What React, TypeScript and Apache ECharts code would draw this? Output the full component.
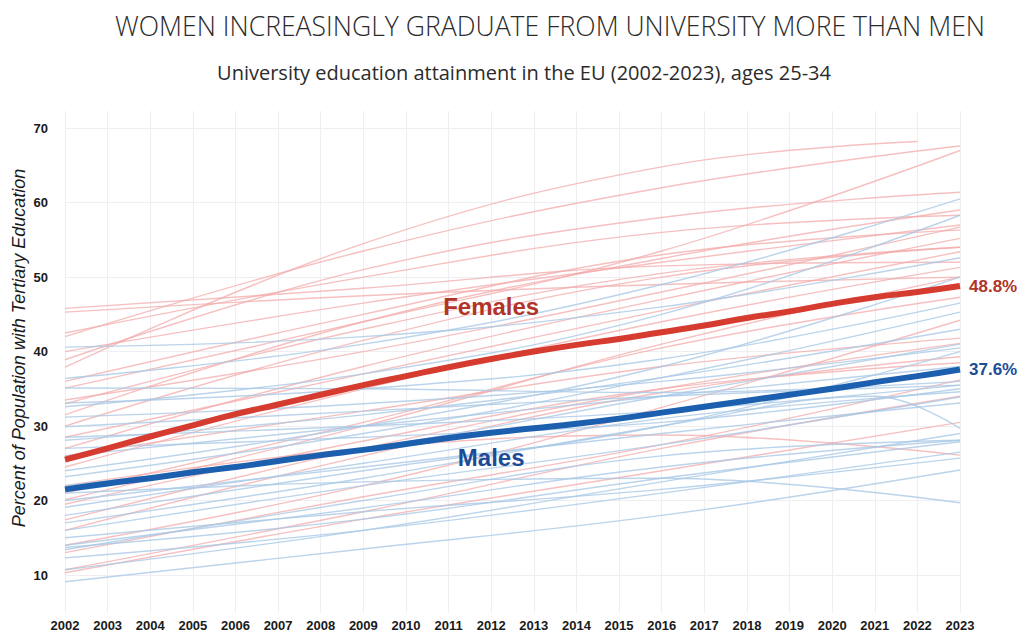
import React, { useEffect, useRef } from "react";
import * as echarts from "echarts";

const years = [2002, 2003, 2004, 2005, 2006, 2007, 2008, 2009, 2010, 2011, 2012, 2013, 2014, 2015, 2016, 2017, 2018, 2019, 2020, 2021, 2022, 2023];
const euFemale = [25.5, 27.0, 28.6, 30.1, 31.6, 32.9, 34.2, 35.5, 36.7, 37.9, 39.0, 40.0, 40.9, 41.7, 42.6, 43.5, 44.5, 45.4, 46.4, 47.3, 48.0, 48.8];
const euMale = [21.5, 22.3, 23.0, 23.8, 24.5, 25.3, 26.1, 26.8, 27.6, 28.4, 29.1, 29.7, 30.3, 31.0, 31.8, 32.6, 33.4, 34.2, 35.0, 35.9, 36.7, 37.6];
const yTicks = [10, 20, 30, 40, 50, 60, 70];

// Country trend lines, [year, value] pairs
const countryFemale: number[][][] = [
  [[2002, 45.8], [2009, 48.5], [2016, 51.5], [2023, 52.0]],
  [[2002, 45.3], [2009, 47.5], [2016, 49.0], [2023, 50.0]],
  [[2002, 42.5], [2009, 50.0], [2016, 56.0], [2023, 58.3]],
  [[2002, 42.0], [2009, 53.5], [2016, 62.0], [2023, 67.6]],
  [[2002, 38.9], [2009, 51.0], [2016, 58.0], [2023, 61.4]],
  [[2002, 37.9], [2009, 54.5], [2016, 64.8], [2022, 68.2]],
  [[2002, 35.1], [2009, 44.0], [2016, 53.5], [2023, 67.0]],
  [[2002, 33.5], [2009, 40.0], [2016, 48.0], [2023, 56.7]],
  [[2002, 31.5], [2009, 44.0], [2016, 52.5], [2023, 59.0]],
  [[2002, 30.0], [2009, 41.5], [2016, 50.0], [2023, 54.0]],
  [[2002, 28.5], [2009, 37.0], [2016, 45.5], [2023, 53.4]],
  [[2002, 27.0], [2009, 38.0], [2016, 47.0], [2023, 55.2]],
  [[2002, 26.0], [2009, 32.0], [2016, 38.0], [2023, 41.8]],
  [[2002, 24.5], [2009, 35.0], [2016, 44.0], [2023, 51.3]],
  [[2002, 21.0], [2009, 30.5], [2016, 40.5], [2023, 47.3]],
  [[2002, 20.1], [2009, 30.0], [2016, 41.0], [2023, 50.0]],
  [[2002, 19.5], [2009, 28.0], [2016, 35.0], [2023, 38.5]],
  [[2002, 17.4], [2009, 27.0], [2016, 35.0], [2023, 41.1]],
  [[2002, 16.0], [2009, 26.0], [2016, 34.5], [2023, 39.3]],
  [[2002, 14.0], [2009, 22.0], [2016, 32.5], [2023, 44.2]],
  [[2002, 13.0], [2009, 20.5], [2016, 27.5], [2023, 36.2]],
  [[2002, 10.7], [2009, 18.5], [2016, 27.0], [2023, 34.0]],
  [[2002, 10.3], [2009, 17.5], [2016, 24.0], [2023, 30.5]],
  [[2002, 22.0], [2009, 27.0], [2016, 28.8], [2023, 26.1]],
  [[2002, 36.0], [2009, 45.0], [2016, 53.0], [2023, 56.3]],
  [[2002, 33.0], [2009, 43.0], [2016, 50.5], [2023, 54.0]],
  [[2002, 40.0], [2009, 46.5], [2016, 52.0], [2023, 57.0]],
];

const countryMale: number[][][] = [
  [[2002, 40.6], [2009, 42.0], [2016, 46.0], [2023, 52.6]],
  [[2002, 36.4], [2009, 41.0], [2016, 49.0], [2023, 60.5]],
  [[2002, 35.1], [2009, 35.0], [2016, 34.5], [2023, 36.0]],
  [[2002, 33.1], [2009, 35.0], [2016, 39.0], [2023, 46.5]],
  [[2002, 32.6], [2009, 37.0], [2016, 45.0], [2023, 58.3]],
  [[2002, 31.2], [2009, 33.0], [2016, 36.0], [2023, 40.5]],
  [[2002, 29.9], [2009, 32.0], [2016, 34.0], [2023, 35.5]],
  [[2002, 28.1], [2009, 31.5], [2016, 36.5], [2023, 43.0]],
  [[2002, 23.2], [2009, 29.0], [2016, 36.5], [2023, 45.3]],
  [[2002, 19.1], [2009, 25.0], [2016, 31.0], [2023, 34.6]],
  [[2002, 16.0], [2009, 22.0], [2016, 27.5], [2023, 33.9]],
  [[2002, 13.4], [2009, 20.0], [2016, 26.0], [2023, 28.1]],
  [[2002, 12.3], [2009, 16.0], [2016, 21.0], [2023, 26.5]],
  [[2002, 9.1], [2009, 13.5], [2016, 18.0], [2023, 24.1]],
  [[2002, 14.0], [2009, 19.0], [2016, 24.5], [2023, 28.1]],
  [[2002, 13.7], [2009, 17.5], [2016, 23.0], [2023, 27.9]],
  [[2002, 10.7], [2009, 16.0], [2016, 22.5], [2023, 29.0]],
  [[2002, 21.0], [2009, 22.5], [2016, 23.0], [2023, 19.7]],
  [[2002, 17.0], [2009, 23.0], [2016, 30.0], [2021, 34.0], [2023, 29.7]],
  [[2002, 26.0], [2009, 30.0], [2016, 34.0], [2023, 38.0]],
  [[2002, 22.0], [2009, 27.0], [2016, 34.0], [2023, 41.0]],
  [[2002, 20.0], [2009, 24.5], [2016, 29.0], [2023, 33.1]],
  [[2002, 28.5], [2009, 30.0], [2016, 32.0], [2023, 35.5]],
  [[2002, 18.0], [2009, 24.0], [2016, 30.0], [2023, 40.0]],
  [[2002, 24.0], [2009, 30.0], [2016, 38.0], [2023, 50.0]],
  [[2002, 15.0], [2009, 18.5], [2016, 21.5], [2023, 25.7]],
  [[2002, 27.0], [2009, 28.5], [2016, 30.5], [2023, 35.0]],
];

const FEMALE_BG = "rgba(242, 168, 168, 0.72)";
const MALE_BG = "rgba(168, 200, 230, 0.78)";
const FEMALE = "#d63b30";
const MALE = "#1c5fae";
const FEMALE_TEXT = "#b03428";
const MALE_TEXT = "#1c4b98";
const AXIS_FONT = "Liberation Sans, Arial, sans-serif";

export default function App() {
  const ref = useRef<HTMLDivElement>(null);
  useEffect(() => {
    if (!ref.current) return;
    const chart = echarts.init(ref.current, null, { renderer: "svg" });

    const bgSeries = (lines: number[][][], color: string) =>
      lines.map((pts) => ({
        type: "line",
        data: pts,
        smooth: 0.4,
        symbol: "none",
        silent: true,
        z: 1,
        lineStyle: { color, width: 1.4 },
      }));

    chart.setOption({
      animation: false,
      backgroundColor: "#ffffff",
      grid: { left: 65, right: 67, top: 111, bottom: 20, containLabel: false },
      xAxis: {
        type: "value",
        min: 2002,
        max: 2023,
        interval: 1,
        axisLine: { show: false },
        axisTick: { show: false },
        axisLabel: {
          formatter: (v: number) => String(v),
          fontFamily: AXIS_FONT,
          fontWeight: "bold",
          fontSize: 13,
          color: "#1a1a1a",
          margin: 6,
        },
        splitLine: { show: true, lineStyle: { color: "#efeff3", width: 1.2 } },
      },
      yAxis: {
        type: "value",
        min: 4.9,
        max: 72.3,
        axisLine: { show: false },
        axisTick: { show: false, customValues: yTicks },
        axisLabel: {
          customValues: yTicks,
          formatter: (v: number) => String(v),
          fontFamily: AXIS_FONT,
          fontWeight: "bold",
          fontSize: 13,
          color: "#1a1a1a",
          margin: 17,
        },
        splitLine: { show: true, lineStyle: { color: "#efeff3", width: 1.2 } },
      },
      graphic: [
        {
          type: "text",
          x: 550,
          y: 25,
          scaleX: 0.95,
          style: {
            text: "WOMEN INCREASINGLY GRADUATE FROM UNIVERSITY MORE THAN MEN",
            fontFamily: "Open Sans, Noto Sans, sans-serif",
            fontWeight: 300,
            fontSize: 28,
            fill: "#2b2b2b",
            textAlign: "center",
            textVerticalAlign: "middle",
          },
        },
        {
          type: "text",
          x: 524,
          y: 72,
          scaleX: 1.0,
          style: {
            text: "University education attainment in the EU (2002-2023), ages 25-34",
            fontFamily: "Open Sans, Noto Sans, sans-serif",
            fontSize: 20,
            fill: "#2b2b2b",
            textAlign: "center",
            textVerticalAlign: "middle",
          },
        },
        {
          type: "text",
          x: 19,
          y: 348,
          rotation: Math.PI / 2,
          style: {
            text: "Percent of Population with Tertiary Education",
            fontFamily: AXIS_FONT,
            fontStyle: "italic",
            fontSize: 18,
            fill: "#1a1a1a",
            textAlign: "center",
            textVerticalAlign: "middle",
          },
        },
      ],
      series: [
        ...bgSeries(countryFemale, FEMALE_BG),
        ...bgSeries(countryMale, MALE_BG),
        {
          type: "line",
          data: years.map((y, i) => [y, euFemale[i]]),
          smooth: true,
          symbol: "none",
          z: 5,
          lineStyle: { color: FEMALE, width: 6 },
          endLabel: {
            show: true,
            formatter: "48.8%",
            color: FEMALE_TEXT,
            fontFamily: AXIS_FONT,
            fontWeight: "bold",
            fontSize: 17,
            distance: 9,
          },
        },
        {
          type: "line",
          data: years.map((y, i) => [y, euMale[i]]),
          smooth: true,
          symbol: "none",
          z: 5,
          lineStyle: { color: MALE, width: 6 },
          endLabel: {
            show: true,
            formatter: "37.6%",
            color: MALE_TEXT,
            fontFamily: AXIS_FONT,
            fontWeight: "bold",
            fontSize: 17,
            distance: 9,
          },
        },
        {
          type: "scatter",
          symbolSize: 0,
          silent: true,
          z: 6,
          itemStyle: { opacity: 1 },
          data: [
            { value: [2012.0, 46.0], label: { formatter: "Females", color: FEMALE_TEXT } },
            { value: [2012.0, 25.8], label: { formatter: "Males", color: MALE_TEXT } },
          ],
          label: {
            show: true,
            position: "inside",
            opacity: 1,
            fontFamily: AXIS_FONT,
            fontWeight: "bold",
            fontSize: 24,
          },
        },
      ],
    });
    return () => chart.dispose();
  }, []);
  return (
    <div
      ref={ref}
      style={{ position: "fixed", left: 0, top: 0, width: 1027, height: 633 }}
    />
  );
}
